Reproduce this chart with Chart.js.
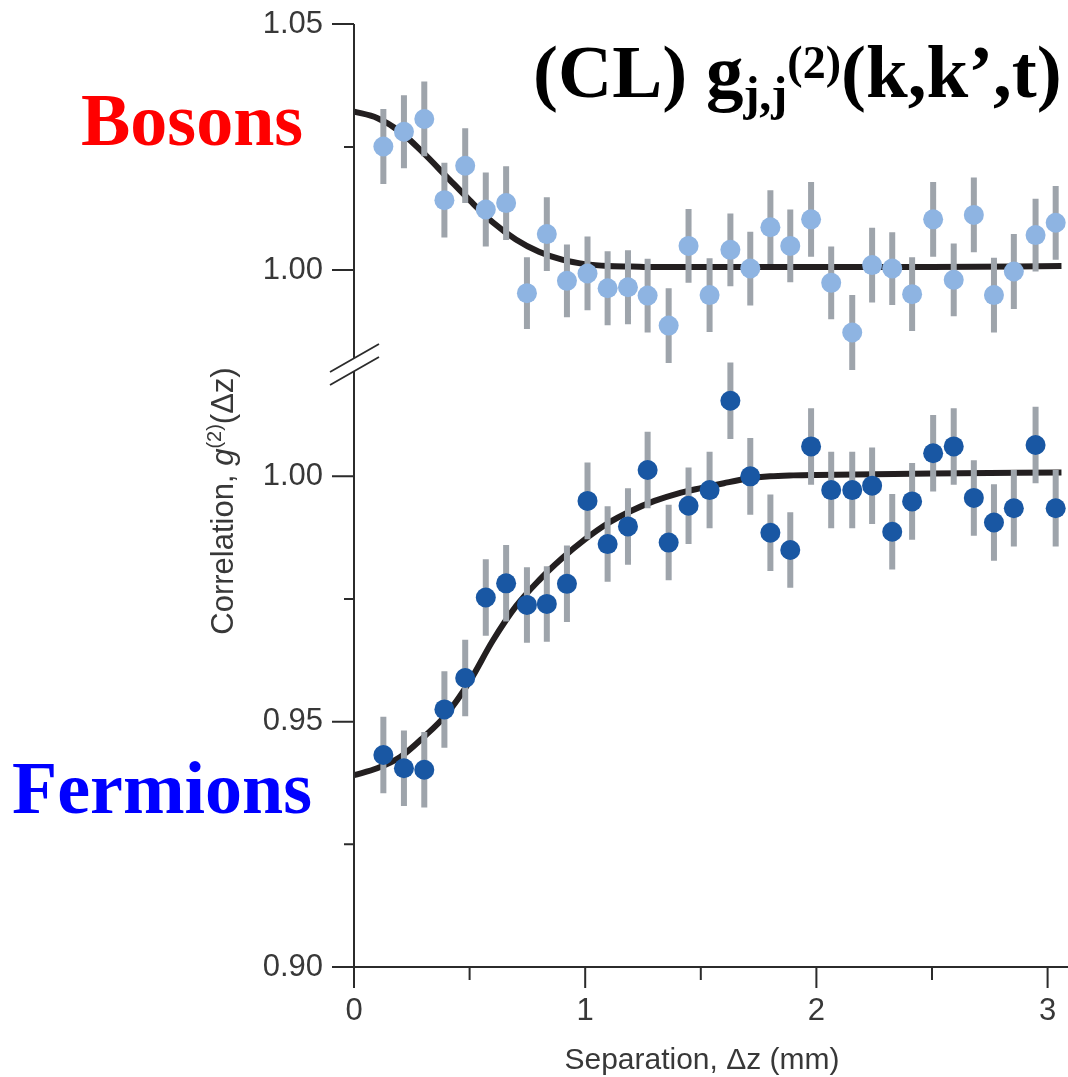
<!DOCTYPE html>
<html>
<head>
<meta charset="utf-8">
<script src="https://cdn.jsdelivr.net/npm/chart.js@4.4.1/dist/chart.umd.min.js"></script>
<style>
  html, body { margin: 0; padding: 0; background: #fff; }
  #wrap { width: 1068px; height: 1077px; }
</style>
</head>
<body>
<div id="wrap"><canvas id="chart" width="1068" height="1077"></canvas></div>
<script>
// separation of the pixel pairs (mm), same for both species
const separation = [0.127, 0.216, 0.304, 0.391, 0.481, 0.570, 0.658, 0.748, 0.834, 0.921,
  1.010, 1.097, 1.185, 1.270, 1.361, 1.447, 1.538, 1.628, 1.714, 1.801,
  1.887, 1.977, 2.064, 2.155, 2.241, 2.328, 2.414, 2.505, 2.594, 2.681,
  2.768, 2.854, 2.948, 3.035];

const bosonG2 = [1.0251, 1.0281, 1.0307, 1.0142, 1.0212, 1.0123, 1.0136, 0.9953, 1.0073, 0.9978,
  0.9993, 0.9963, 0.9965, 0.9948, 0.9887, 1.0049, 0.9949, 1.0041, 1.0003, 1.0087,
  1.0049, 1.0103, 0.9974, 0.9873, 1.0010, 1.0003, 0.9951, 1.0103, 0.9980, 1.0112,
  0.9949, 0.9997, 1.0071, 1.0096];
const bosonErr = [0.0076, 0.0074, 0.0076, 0.0076, 0.0076, 0.0075, 0.0075, 0.0073, 0.0075, 0.0074,
  0.0075, 0.0075, 0.0075, 0.0075, 0.0076, 0.0075, 0.0075, 0.0074, 0.0075, 0.0075,
  0.0074, 0.0076, 0.0074, 0.0076, 0.0076, 0.0074, 0.0075, 0.0076, 0.0074, 0.0076,
  0.0076, 0.0076, 0.0074, 0.0075];

const fermionG2 = [0.9432, 0.9405, 0.9402, 0.9525, 0.9589, 0.9753, 0.9782, 0.9738, 0.9740, 0.9781,
  0.9950, 0.9862, 0.9898, 1.0013, 0.9865, 0.9940, 0.9972, 1.0154, 1.0000, 0.9885,
  0.9850, 1.0061, 0.9972, 0.9972, 0.9981, 0.9887, 0.9949, 1.0047, 1.0061, 0.9956,
  0.9906, 0.9935, 1.0064, 0.9935];
const fermionErr = [0.0078, 0.0077, 0.0077, 0.0078, 0.0078, 0.0078, 0.0078, 0.0077, 0.0077, 0.0078,
  0.0078, 0.0077, 0.0078, 0.0078, 0.0077, 0.0078, 0.0078, 0.0078, 0.0078, 0.0078,
  0.0077, 0.0078, 0.0078, 0.0078, 0.0078, 0.0077, 0.0078, 0.0078, 0.0078, 0.0077,
  0.0078, 0.0078, 0.0078, 0.0078];

// fitted curves
const fitX = [0, 0.1, 0.2, 0.3, 0.4, 0.5, 0.6, 0.7, 0.8, 0.9, 1.0, 1.1, 1.2, 1.3, 1.4,
  1.5, 1.6, 1.7, 1.8, 1.9, 2.0, 2.5, 3.06];
const bosonFit = [1.0322, 1.0309, 1.0281, 1.0238, 1.0190, 1.0142, 1.0097, 1.0062, 1.0037, 1.0021,
  1.0012, 1.0008, 1.0007, 1.0006, 1.0006, 1.0006, 1.0006, 1.0006, 1.0006, 1.0006,
  1.0006, 1.0006, 1.0008];
const fermionFit = [0.9391, 0.9405, 0.9428, 0.9468, 0.9515, 0.9582, 0.9665, 0.9735, 0.9788, 0.9833,
  0.9872, 0.9905, 0.9930, 0.9950, 0.9965, 0.9976, 0.9986, 0.9995, 1.0000, 1.0002,
  1.0003, 1.0006, 1.0008];

const xLabels = [0, 1, 2, 3];
const yLabels = [0.90, 0.95, 1.00, 1.05];

const SANS = '"Liberation Sans", Arial, sans-serif';
const SERIF = '"Liberation Serif", "Times New Roman", serif';
const AXIS = '#2b2b2b';
const TEXT = '#383838';

const pts = (xs, ys) => xs.map((x, i) => ({ x, y: ys[i] }));
const isLabel = (list, v) => list.some(l => Math.abs(l - v) < 1e-6);

// grey error bars, drawn right before each point set
const errorBars = {
  id: 'errorBars',
  beforeDatasetDraw(chart, args) {
    const ds = chart.data.datasets[args.index];
    if (!ds.errors) return;
    const { ctx } = chart;
    const xs = chart.scales.x, ys = chart.scales[ds.yAxisID];
    ctx.save();
    ctx.strokeStyle = '#9ea4ab';
    ctx.lineWidth = 6;
    ctx.beginPath();
    ds.data.forEach((p, i) => {
      const px = xs.getPixelForValue(p.x);
      ctx.moveTo(px, ys.getPixelForValue(p.y - ds.errors[i]));
      ctx.lineTo(px, ys.getPixelForValue(p.y + ds.errors[i]));
    });
    ctx.stroke();
    ctx.restore();
  }
};

// axis lines, tick marks and the // break
const brokenAxes = {
  id: 'brokenAxes',
  afterDraw(chart) {
    const { ctx, chartArea: a, scales } = chart;
    const xs = scales.x, yt = scales.yTop, yb = scales.yBot;
    const ax = a.left, brk = yt.bottom;
    const line = (x1, y1, x2, y2) => { ctx.moveTo(x1, y1); ctx.lineTo(x2, y2); };
    ctx.save();
    ctx.strokeStyle = AXIS;
    ctx.lineWidth = 2;
    ctx.beginPath();
    line(ax, a.top, ax, brk - 6);
    line(ax, brk + 7, ax, a.bottom + 21);
    line(ax - 22, a.bottom, a.right + 10, a.bottom);
    [yt, yb].forEach(s => s.ticks.forEach(t => {
      const py = s.getPixelForValue(t.value);
      const len = isLabel(yLabels, t.value) ? 22 : 10;
      line(ax - len, py, ax, py);
    }));
    xs.ticks.forEach(t => {
      const px = xs.getPixelForValue(t.value);
      const len = isLabel(xLabels, t.value) ? 21 : 13;
      line(px, a.bottom, px, a.bottom + len);
    });
    ctx.stroke();
    ctx.lineWidth = 1.8;
    ctx.beginPath();
    line(ax - 24, brk + 8, ax + 25, brk - 20);
    line(ax - 24, brk + 21, ax + 25, brk - 7);
    ctx.stroke();
    ctx.restore();
  }
};

const labels = {
  id: 'labels',
  afterDraw(chart) {
    const { ctx } = chart;
    ctx.save();
    ctx.textAlign = 'left';
    ctx.textBaseline = 'alphabetic';

    ctx.font = 'bold 74px ' + SERIF;
    ctx.fillStyle = '#ff0000';
    ctx.fillText('Bosons', 81, 145);
    ctx.fillStyle = '#0000ff';
    ctx.fillText('Fermions', 12, 813);

    // (CL) g_{j,j}^{(2)}(k,k',t)
    ctx.fillStyle = '#000';
    let x = 533;
    const base = 97;
    ctx.font = 'bold 75px ' + SERIF;
    ctx.fillText('(CL) g', x, base);
    x += ctx.measureText('(CL) g').width;
    ctx.font = 'bold 48px ' + SERIF;
    ctx.fillText('j,j', x, base + 13);
    x += ctx.measureText('j,j').width;
    ctx.font = 'bold 46px ' + SERIF;
    ctx.fillText('(2)', x, base - 19);
    x += ctx.measureText('(2)').width;
    ctx.font = 'bold 75px ' + SERIF;
    ctx.fillText('(k,k\u2019,t)', x, base);

    // x axis title
    ctx.fillStyle = TEXT;
    ctx.font = '30px ' + SANS;
    ctx.textAlign = 'center';
    ctx.fillText('Separation, \u0394z (mm)', 702, 1069);

    // y axis title, rotated
    ctx.translate(233, 501);
    ctx.rotate(-Math.PI / 2);
    ctx.textAlign = 'left';
    const parts = [
      { t: 'Correlation, ', f: '31px ' + SANS, dy: 0 },
      { t: 'g', f: 'italic 31px ' + SANS, dy: 0 },
      { t: '(2)', f: '20px ' + SANS, dy: -12 },
      { t: '(\u0394z)', f: '31px ' + SANS, dy: 0 }
    ];
    let w = 0;
    parts.forEach(p => { ctx.font = p.f; p.w = ctx.measureText(p.t).width; w += p.w; });
    let px = -w / 2;
    parts.forEach(p => { ctx.font = p.f; ctx.fillText(p.t, px, p.dy); px += p.w; });
    ctx.restore();
  }
};

const yTicks = {
  stepSize: 0.025,
  includeBounds: false,
  padding: 31,
  color: TEXT,
  font: { family: SANS, size: 31 },
  callback: v => isLabel(yLabels, v) ? v.toFixed(2) : ''
};
const yFit = s => { s.width = 354; s.paddingTop = 0; s.paddingBottom = 0; };
const noGrid = { display: false, drawTicks: false, tickLength: 0 };

new Chart(document.getElementById('chart'), {
  type: 'scatter',
  data: {
    datasets: [
      {
        type: 'line', label: 'boson fit', data: pts(fitX, bosonFit), yAxisID: 'yTop',
        borderColor: '#231f20', borderWidth: 6, pointRadius: 0, fill: false,
        cubicInterpolationMode: 'monotone', order: 3, clip: 8
      },
      {
        type: 'line', label: 'fermion fit', data: pts(fitX, fermionFit), yAxisID: 'yBot',
        borderColor: '#231f20', borderWidth: 6, pointRadius: 0, fill: false,
        cubicInterpolationMode: 'monotone', order: 3, clip: 8
      },
      {
        label: 'Bosons', data: pts(separation, bosonG2), errors: bosonErr, yAxisID: 'yTop',
        pointRadius: 10, pointBackgroundColor: '#8eb4e2', pointBorderWidth: 0, order: 1, clip: 12
      },
      {
        label: 'Fermions', data: pts(separation, fermionG2), errors: fermionErr, yAxisID: 'yBot',
        pointRadius: 10, pointBackgroundColor: '#1957a3', pointBorderWidth: 0, order: 1, clip: 12
      }
    ]
  },
  options: {
    responsive: false,
    animation: false,
    events: [],
    layout: { padding: { top: 24, right: 2, left: 0, bottom: 0 } },
    plugins: { legend: { display: false }, tooltip: { enabled: false } },
    scales: {
      x: {
        type: 'linear', min: 0, max: 3.045,
        grid: noGrid, border: { display: false },
        ticks: {
          stepSize: 0.5, includeBounds: false, padding: 26, color: TEXT,
          font: { family: SANS, size: 31 },
          callback: v => isLabel(xLabels, v) ? String(v) : ''
        },
        afterFit: s => { s.height = 110; s.paddingLeft = 0; s.paddingRight = 0; }
      },
      yTop: {
        type: 'linear', position: 'left', stack: 'g2', stackWeight: 340, weight: 2,
        min: 0.9809, max: 1.05,
        grid: noGrid, border: { display: false },
        ticks: yTicks,
        afterFit: yFit
      },
      yBot: {
        type: 'linear', position: 'left', stack: 'g2', stackWeight: 603, weight: 1,
        min: 0.90, max: 1.0229,
        grid: noGrid, border: { display: false },
        ticks: yTicks,
        afterFit: yFit
      }
    }
  },
  plugins: [errorBars, brokenAxes, labels]
});
</script>
</body>
</html>
